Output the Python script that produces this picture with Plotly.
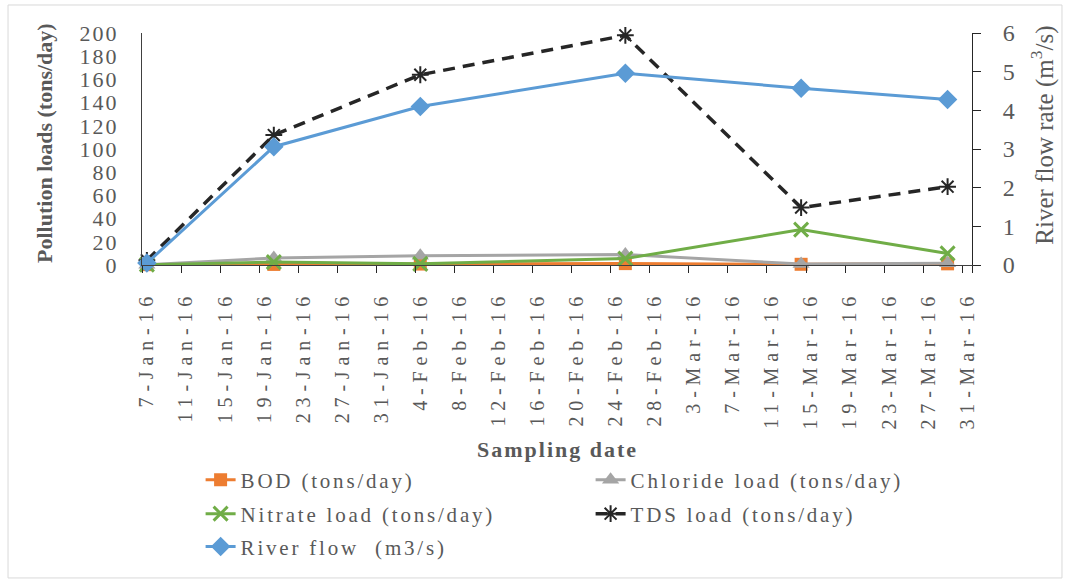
import pandas as pd
import plotly.graph_objects as go

# ---- data ----
sample_dates = ["2016-01-07", "2016-01-20", "2016-02-04", "2016-02-25", "2016-03-14", "2016-03-29"]
bod_load = [0.3, 0.5, 0.8, 1.2, 0.6, 1.0]
chloride_load = [0.3, 6.0, 8.0, 9.0, 0.8, 1.5]
nitrate_load = [0.3, 2.5, 1.0, 5.5, 30.5, 10.0]
tds_load = [4.0, 112.0, 164.0, 198.0, 49.5, 67.5]
river_flow = [0.05, 3.06, 4.10, 4.96, 4.57, 4.28]

tick_labels = ["7-Jan-16", "11-Jan-16", "15-Jan-16", "19-Jan-16", "23-Jan-16", "27-Jan-16",
               "31-Jan-16", "4-Feb-16", "8-Feb-16", "12-Feb-16", "16-Feb-16", "20-Feb-16",
               "24-Feb-16", "28-Feb-16", "3-Mar-16", "7-Mar-16", "11-Mar-16", "15-Mar-16",
               "19-Mar-16", "23-Mar-16", "27-Mar-16", "31-Mar-16"]
left_ticks = [0, 20, 40, 60, 80, 100, 120, 140, 160, 180, 200]
right_ticks = [0, 1, 2, 3, 4, 5, 6]

tick_dates = pd.to_datetime(tick_labels, format="%d-%b-%y")
half_day = pd.Timedelta(hours=12)
boundary_ticks = [d - half_day for d in tick_dates] + [tick_dates[-1] + half_day]

FONT = "Liberation Serif, Times New Roman, serif"
GREY = "#595959"

fig = go.Figure()
fig.add_trace(go.Scatter(x=sample_dates, y=bod_load, name="BOD (tons/day)", mode="lines+markers",
                         legend="legend",
                         line=dict(color="#ED7D31", width=3),
                         marker=dict(symbol="square", size=13, color="#ED7D31"), cliponaxis=False))
fig.add_trace(go.Scatter(x=sample_dates, y=chloride_load, name="Chloride load (tons/day)", mode="lines+markers",
                         legend="legend",
                         line=dict(color="#A5A5A5", width=3),
                         marker=dict(symbol="triangle-up", size=15, color="#A5A5A5"), cliponaxis=False))
fig.add_trace(go.Scatter(x=sample_dates, y=nitrate_load, name="Nitrate load (tons/day)", mode="lines+markers",
                         legend="legend2",
                         line=dict(color="#70AD47", width=3),
                         marker=dict(symbol="x-thin", size=14, color="#70AD47",
                                     line=dict(color="#70AD47", width=3)), cliponaxis=False))
fig.add_trace(go.Scatter(x=sample_dates, y=tds_load, name="TDS load (tons/day)", mode="lines+markers",
                         legend="legend2",
                         line=dict(color="#262626", width=3.5, dash="12px,8px"),
                         marker=dict(symbol="asterisk", size=14, color="#262626",
                                     line=dict(color="#262626", width=2)), cliponaxis=False))
fig.add_trace(go.Scatter(x=sample_dates, y=river_flow, name="River flow  (m3/s)", mode="lines+markers",
                         yaxis="y2", legend="legend3",
                         line=dict(color="#5B9BD5", width=3),
                         marker=dict(symbol="diamond", size=15, color="#5B9BD5"), cliponaxis=False))

legend_common = dict(orientation="h", x=0.0706, xanchor="left", yanchor="top",
                     entrywidth=345, entrywidthmode="pixels",
                     font=dict(family=FONT, size=21, color=GREY),
                     bgcolor="rgba(0,0,0,0)", traceorder="normal")

fig.update_layout(
    width=1070, height=581,
    margin=dict(l=142, r=98, t=33, b=316, autoexpand=False),
    paper_bgcolor="white", plot_bgcolor="white",
    font=dict(family=FONT, color=GREY, size=21),
    xaxis=dict(
        type="date",
        range=[tick_dates[0] - half_day, tick_dates[-1] + half_day],
        tickmode="array", tickvals=list(tick_dates), ticktext=tick_labels,
        tickangle=-90, tickfont=dict(family=FONT, size=20, color=GREY),
        ticks="outside", ticklen=7, tickcolor="rgba(0,0,0,0)",
        showline=True, linecolor="#404040", linewidth=1,
        showgrid=False, zeroline=False, ticklabelstandoff=10,
        minor=dict(tickmode="array", tickvals=boundary_ticks, ticks="outside",
                   ticklen=7, tickcolor="#262626", tickwidth=1, showgrid=False),
    ),
    yaxis=dict(
        range=[0, 200], tickmode="array", tickvals=left_ticks,
        tickfont=dict(family=FONT, size=22, color=GREY),
        showline=True, linecolor="#404040", linewidth=1,
        ticks="", showgrid=False, zeroline=False, ticklabelstandoff=18,
    ),
    yaxis2=dict(
        range=[0, 6], tickmode="array", tickvals=right_ticks, overlaying="y", side="right",
        tickfont=dict(family=FONT, size=24, color=GREY),
        showline=True, linecolor="#262626", linewidth=1,
        ticks="outside", ticklen=8, tickcolor="#262626",
        showgrid=False, zeroline=False, ticklabelstandoff=17,
    ),
    legend=dict(legend_common, y=-0.8384),
    legend2=dict(legend_common, y=-0.985),
    legend3=dict(legend_common, y=-1.127),
    annotations=[
        dict(text="<b>Pollution loads (tons/day)</b>", xref="paper", yref="paper",
             x=-0.1169, y=0.526, xanchor="center", yanchor="middle",
             textangle=-90, showarrow=False,
             font=dict(family=FONT, size=22, color=GREY)),
        dict(text="River flow rate (m<sup>3</sup>/s)", xref="paper", yref="paper",
             x=1.085, y=0.56, xanchor="center", yanchor="middle",
             textangle=-90, showarrow=False,
             font=dict(family=FONT, size=25, color=GREY)),
        dict(text="<b>Sampling date</b>", xref="paper", yref="paper",
             x=0.5, y=-0.797, xanchor="center", yanchor="middle", showarrow=False,
             font=dict(family=FONT, size=22, color=GREY)),
    ],
    shapes=[dict(type="rect", xref="paper", yref="paper",
                 x0=-0.1614, x1=1.1084, y0=-1.349, y1=1.1207,
                 line=dict(color="#D9D9D9", width=1), fillcolor="rgba(0,0,0,0)", layer="below")],
)

post = """
var css = document.createElement('style');
css.textContent =
  '.xtick text { letter-spacing: 5.8px; }' +
  '.ytick text, .y2tick text { letter-spacing: 2px; }' +
  '.legendtext, .legend2text, .legend3text { letter-spacing: 2.8px; }' +
  '.annotation[data-index="2"] text { letter-spacing: 2px; }';
document.head.appendChild(css);
"""

fig.write_html("out.html", post_script=post)
